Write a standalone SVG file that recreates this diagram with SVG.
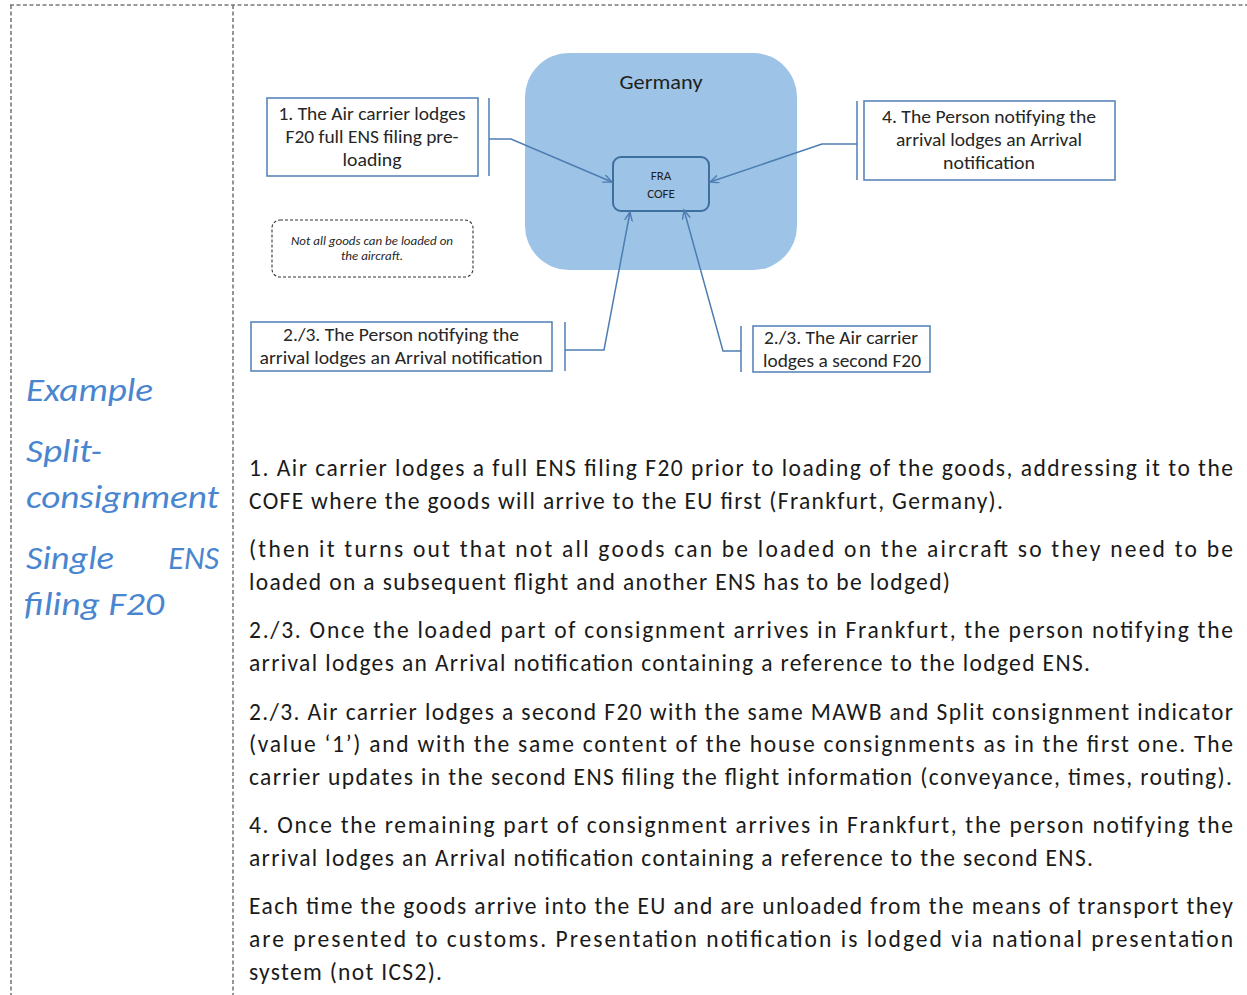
<svg xmlns="http://www.w3.org/2000/svg" width="1247" height="995" viewBox="0 0 1247 995">
  <defs>
    <style>
      .frame { stroke: #7a7a7a; stroke-width: 1.6; stroke-dasharray: 4 2.5; fill: none; }
      .side { font-family: Carlito, Lato, "Liberation Sans", sans-serif; font-style: italic; font-size: 32px; fill: #4a86cf; }
      .body { font-family: Carlito, Lato, "Liberation Sans", sans-serif; font-size: 23.5px; fill: #1a1a1a; }
      .lbl { font-family: Carlito, Lato, "Liberation Sans", sans-serif; font-size: 18px; fill: #262626; text-anchor: middle; }
      .box { fill: #ffffff; stroke: #5a86ba; stroke-width: 1.6; }
      .brk { stroke: #5a86ba; stroke-width: 1.6; fill: none; }
      .conn { stroke: #4d7db2; stroke-width: 1.5; fill: none; marker-end: url(#arrow); }
    </style>
    <marker id="arrow" markerUnits="userSpaceOnUse" markerWidth="12" markerHeight="10" refX="9" refY="4" orient="auto">
      <path d="M0,0 L9,4 L0,8" fill="none" stroke="#4d7db2" stroke-width="1.4"/>
    </marker>
  </defs>

  <!-- table frame -->
  <g id="frame">
    <line class="frame" x1="10" y1="5" x2="1247" y2="5"/>
    <line class="frame" x1="11" y1="5" x2="11" y2="995"/>
    <line class="frame" x1="233" y1="5" x2="233" y2="995"/>
  </g>

  <!-- left column heading -->
  <g id="side-title" class="side">
    <text x="26" y="401" textLength="127" lengthAdjust="spacingAndGlyphs">Example</text>
    <text x="26" y="462" textLength="76" lengthAdjust="spacingAndGlyphs">Split-</text>
    <text x="26" y="508" textLength="193" lengthAdjust="spacingAndGlyphs">consignment</text>
    <text x="26" y="569" textLength="88" lengthAdjust="spacingAndGlyphs">Single</text>
    <text x="219" y="569" text-anchor="end">ENS</text>
    <text x="24" y="615" textLength="140" lengthAdjust="spacingAndGlyphs">filing F20</text>
  </g>

  <!-- Germany region -->
  <g id="germany">
    <rect x="525" y="53" width="272" height="217" rx="44" ry="44" fill="#9dc3e6"/>
    <text x="661" y="89" font-family="Carlito, Lato, 'Liberation Sans', sans-serif" font-size="20" fill="#1f1f1f" text-anchor="middle" textLength="83" lengthAdjust="spacingAndGlyphs">Germany</text>
  </g>

  <!-- FRA COFE office -->
  <g id="fra-cofe">
    <rect x="613" y="157" width="96" height="54" rx="8" ry="8" fill="#9dc3e6" stroke="#3f6f9f" stroke-width="2"/>
    <text x="661" y="180" font-family="Carlito, Lato, 'Liberation Sans', sans-serif" font-size="13" fill="#1f1f1f" text-anchor="middle">FRA</text>
    <text x="661" y="198" font-family="Carlito, Lato, 'Liberation Sans', sans-serif" font-size="13" fill="#1f1f1f" text-anchor="middle">COFE</text>
  </g>

  <!-- step 1 -->
  <g id="step1">
    <rect class="box" x="267" y="98" width="211" height="78"/>
    <text class="lbl" x="372" y="120" textLength="187" lengthAdjust="spacingAndGlyphs">1. The Air carrier lodges</text>
    <text class="lbl" x="372" y="143" textLength="173" lengthAdjust="spacingAndGlyphs">F20 full ENS filing pre-</text>
    <text class="lbl" x="372" y="166" textLength="59" lengthAdjust="spacingAndGlyphs">loading</text>
  </g>

  <!-- step 4 -->
  <g id="step4">
    <rect class="box" x="864" y="101" width="251" height="79"/>
    <text class="lbl" x="989" y="123" textLength="214" lengthAdjust="spacingAndGlyphs">4. The Person notifying the</text>
    <text class="lbl" x="989" y="146" textLength="186" lengthAdjust="spacingAndGlyphs">arrival lodges an Arrival</text>
    <text class="lbl" x="989" y="169" textLength="92" lengthAdjust="spacingAndGlyphs">notification</text>
  </g>

  <!-- note -->
  <g id="note">
    <rect x="272" y="220" width="201" height="57" rx="8" ry="8" fill="none" stroke="#333333" stroke-width="1.1" stroke-dasharray="3 2"/>
    <text x="372" y="245" font-family="Carlito, Lato, 'Liberation Sans', sans-serif" font-size="11.5" font-style="italic" fill="#262626" text-anchor="middle" textLength="162" lengthAdjust="spacingAndGlyphs">Not all goods can be loaded on</text>
    <text x="372" y="260" font-family="Carlito, Lato, 'Liberation Sans', sans-serif" font-size="11.5" font-style="italic" fill="#262626" text-anchor="middle" textLength="62" lengthAdjust="spacingAndGlyphs">the aircraft.</text>
  </g>

  <!-- step 2/3 arrival -->
  <g id="step23-arrival">
    <rect class="box" x="251" y="322" width="301" height="49"/>
    <text class="lbl" x="401" y="341" textLength="236" lengthAdjust="spacingAndGlyphs">2./3. The Person notifying the</text>
    <text class="lbl" x="401" y="364" textLength="283" lengthAdjust="spacingAndGlyphs">arrival lodges an Arrival notification</text>
  </g>

  <!-- step 2/3 second filing -->
  <g id="step23-second">
    <rect class="box" x="753" y="326" width="177" height="46"/>
    <text class="lbl" x="841" y="344" textLength="154" lengthAdjust="spacingAndGlyphs">2./3. The Air carrier</text>
    <text class="lbl" x="842" y="367" textLength="158" lengthAdjust="spacingAndGlyphs">lodges a second F20</text>
  </g>

  <!-- connectors -->
  <g id="connectors">
    <line class="brk" x1="489" y1="98" x2="489" y2="176"/>
    <polyline class="conn" points="489,139 511,139 612,182"/>
    <line class="brk" x1="857" y1="101" x2="857" y2="180"/>
    <polyline class="conn" points="857,144 822,144 710,182"/>
    <line class="brk" x1="565" y1="322" x2="565" y2="371"/>
    <polyline class="conn" points="565,350 604,350 630,212"/>
    <line class="brk" x1="741" y1="326" x2="741" y2="372"/>
    <polyline class="conn" points="741,351 723,351 684,210"/>
  </g>

  <!-- explanatory text -->
  <g id="description" class="body">
    <text x="249" y="476" textLength="984" lengthAdjust="spacing">1. Air carrier lodges a full ENS filing F20 prior to loading of the goods, addressing it to the</text>
    <text x="249" y="509" textLength="754" lengthAdjust="spacing">COFE where the goods will arrive to the EU first (Frankfurt, Germany).</text>
    <text x="249" y="557" textLength="984" lengthAdjust="spacing">(then it turns out that not all goods can be loaded on the aircraft so they need to be</text>
    <text x="249" y="590" textLength="701" lengthAdjust="spacing">loaded on a subsequent flight and another ENS has to be lodged)</text>
    <text x="249" y="638" textLength="984" lengthAdjust="spacing">2./3. Once the loaded part of consignment arrives in Frankfurt, the person notifying the</text>
    <text x="249" y="671" textLength="841" lengthAdjust="spacing">arrival lodges an Arrival notification containing a reference to the lodged ENS.</text>
    <text x="249" y="720" textLength="984" lengthAdjust="spacing">2./3. Air carrier lodges a second F20 with the same MAWB and Split consignment indicator</text>
    <text x="249" y="752" textLength="984" lengthAdjust="spacing">(value ‘1’) and with the same content of the house consignments as in the first one. The</text>
    <text x="249" y="785" textLength="983" lengthAdjust="spacing">carrier updates in the second ENS filing the flight information (conveyance, times, routing).</text>
    <text x="249" y="833" textLength="984" lengthAdjust="spacing">4. Once the remaining part of consignment arrives in Frankfurt, the person notifying the</text>
    <text x="249" y="866" textLength="844" lengthAdjust="spacing">arrival lodges an Arrival notification containing a reference to the second ENS.</text>
    <text x="249" y="914" textLength="984" lengthAdjust="spacing">Each time the goods arrive into the EU and are unloaded from the means of transport they</text>
    <text x="249" y="947" textLength="984" lengthAdjust="spacing">are presented to customs. Presentation notification is lodged via national presentation</text>
    <text x="249" y="980" textLength="193" lengthAdjust="spacing">system (not ICS2).</text>
  </g>
</svg>
